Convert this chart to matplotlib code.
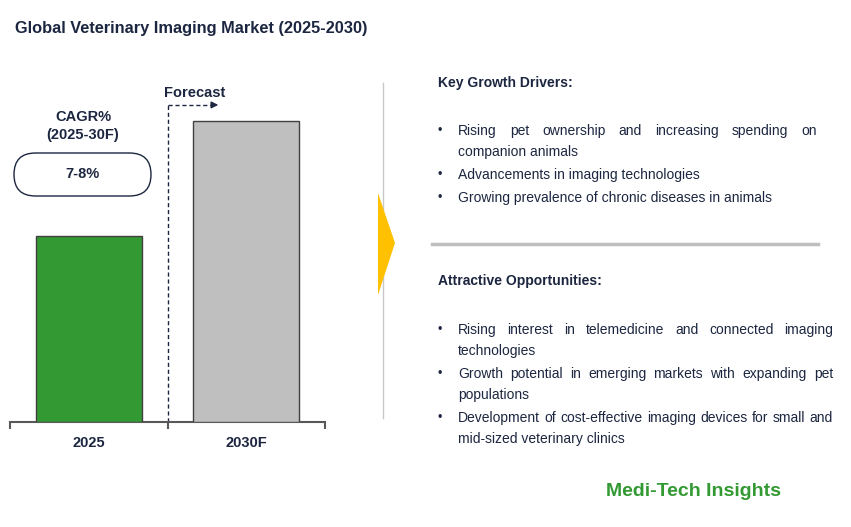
import matplotlib
matplotlib.use('Agg')
import matplotlib.pyplot as plt
from matplotlib.patches import FancyBboxPatch, Polygon

plt.rcParams['font.family'] = ['Liberation Sans', 'DejaVu Sans']

# data
years = ['2025', '2030F']
market_size = [1.0, 1.62]  # relative
bar_colors = ['#339933', '#bfbfbf']
cagr = '7-8%'
drivers = [
    ['Rising pet ownership and increasing spending on', 'companion animals'],
    ['Advancements in imaging technologies'],
    ['Growing prevalence of chronic diseases in animals'],
]
opportunities = [
    ['Rising interest in telemedicine and connected imaging', 'technologies'],
    ['Growth potential in emerging markets with expanding pet', 'populations'],
    ['Development of cost-effective imaging devices for small and',
     'mid-sized veterinary clinics'],
]

NAVY = '#1c2640'
W, H = 851, 527

fig = plt.figure(figsize=(W / 100, H / 100), dpi=100)

# overlay axes in pixel units
ov = fig.add_axes([0, 0, 1, 1])
ov.set_xlim(0, W)
ov.set_ylim(0, H)
ov.axis('off')


def Y(y):
    return H - y


# bar chart
ax = fig.add_axes([10 / W, (H - 422) / H, 315 / W, 362 / H])
ax.patch.set_alpha(0)
ax.bar(range(len(years)), market_size, width=0.67, color=bar_colors,
       edgecolor='#404040', linewidth=1, zorder=3)
ax.set_xlim(-0.5, 1.5)
ax.set_ylim(0, 1.95)
for s in ['top', 'right', 'left']:
    ax.spines[s].set_visible(False)
ax.spines['bottom'].set_color('#595959')
ax.spines['bottom'].set_linewidth(1.5)
ax.set_yticks([])
ax.set_xticks(range(len(years)))
ax.set_xticklabels(years, fontsize=10.5, fontweight='bold', color=NAVY)
ax.tick_params(axis='x', which='major', length=0, pad=10)
ax.set_xticks([-0.5, 0.5, 1.5], minor=True)
ax.tick_params(axis='x', which='minor', length=5, width=1.5, color='#595959',
               direction='out')

# forecast dashed marker
ax.plot([0.5, 0.5], [0, 1.708], ls=(0, (3, 2)), color=NAVY, lw=1, zorder=2)
ax.plot([0.5, 0.79], [1.708, 1.708], ls=(0, (3, 2)), color=NAVY, lw=1)
ax.annotate('', xy=(0.84, 1.708), xytext=(0.78, 1.708),
            arrowprops=dict(arrowstyle='-|>', color=NAVY, lw=1,
                            mutation_scale=10))
ov.text(195, Y(93), 'Forecast', ha='center', va='center', fontsize=10.5,
        fontweight='bold', color=NAVY)

# CAGR
ov.text(83, Y(126), 'CAGR%\n(2025-30F)', ha='center', va='center',
        fontsize=10.5, fontweight='bold', color=NAVY, linespacing=1.3)
box = FancyBboxPatch((14, Y(196)), 137, 43,
                     boxstyle='round,pad=0,rounding_size=21.5',
                     fc='white', ec=NAVY, lw=1)
ov.add_patch(box)
ov.text(83, Y(174.5), cagr, ha='center', va='center', fontsize=10.5,
        fontweight='bold', color=NAVY)

# divider line and yellow chevron
ov.plot([383, 383], [Y(83), Y(418)], color='#c8c8c8', lw=1)
ov.add_patch(Polygon([(378, Y(193)), (395, Y(243)), (378, Y(295))],
                     closed=True, fc='#ffc000', ec='none', zorder=3))

# title
ov.text(15, Y(28), 'Global Veterinary Imaging Market (2025-2030)', ha='left',
        va='center', fontsize=11.8, fontweight='bold', color=NAVY)

renderer = fig.canvas.get_renderer()


def justify(line, x0, x1, y, size):
    words = line.split()
    arts = [ov.text(0, Y(y), w, ha='left', va='center', fontsize=size,
                    color=NAVY) for w in words]
    widths = [a.get_window_extent(renderer).width for a in arts]
    gap = (x1 - x0 - sum(widths)) / (len(words) - 1)
    x = x0
    for a, w in zip(arts, widths):
        a.set_x(x)
        x += w + gap


def block(heading, head_y, items, first_y, right, size=10):
    ov.text(438, Y(head_y), heading, ha='left', va='center', fontsize=10,
            fontweight='bold', color=NAVY)
    y = first_y
    for item in items:
        ov.text(438, Y(y), '\u2022', ha='left', va='center', fontsize=9,
                color=NAVY)
        for i, line in enumerate(item):
            if i < len(item) - 1:
                justify(line, 458, right, y, size)
            else:
                ov.text(458, Y(y), line, ha='left', va='center',
                        fontsize=size, color=NAVY)
            y += 21
        y += 2


block('Key Growth Drivers:', 83, drivers, 131, 817)
ov.plot([432, 818], [Y(244), Y(244)], color='#bfbfbf', lw=2.5)
block('Attractive Opportunities:', 281, opportunities, 330, 833)

ov.text(693, Y(492), 'Medi-Tech Insights', ha='center', va='center',
        fontsize=14, fontweight='bold', color='#339933')

fig.savefig('out.png', dpi=100)
